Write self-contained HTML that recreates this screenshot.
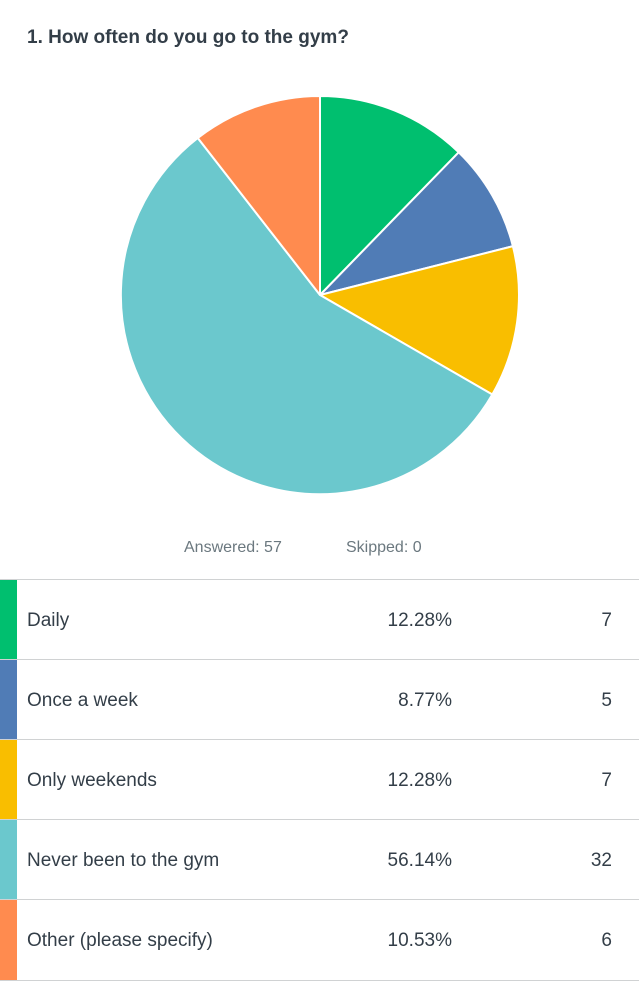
<!DOCTYPE html>
<html><head><meta charset="utf-8"><style>
body{margin:0;width:639px;height:1000px;background:#fff;font-family:"Liberation Sans",sans-serif;color:#333e48;position:relative;overflow:hidden}
.t{position:absolute;left:27px;top:27px;font-size:19px;font-weight:bold;color:#333e48}
.s{position:absolute;top:539px;font-size:16px;color:#6b787f}
.row{position:absolute;left:0;width:639px;height:80px;border-top:1px solid #d0d2d3}
.bar{position:absolute;left:0;top:0;width:17px;height:80px}
.row span{position:absolute;top:30px;font-size:19px}
.l{left:27px}.p{right:187px}.n{right:27px}
</style></head><body>
<div class="t">1. How often do you go to the gym?</div>
<svg style="position:absolute;left:0;top:0" width="639" height="520">
<g stroke="#fff" stroke-width="2" stroke-linejoin="round">
<path d="M320,295 L320,96 A199,199 0 0 1 458.7,152.3 Z" fill="#00bf6f"/>
<path d="M320,295 L458.7,152.3 A199,199 0 0 1 512.9,246.2 Z" fill="#507cb6"/>
<path d="M320,295 L512.9,246.2 A199,199 0 0 1 492.3,394.5 Z" fill="#f9be00"/>
<path d="M320,295 L492.3,394.5 A199,199 0 1 1 197.8,138 Z" fill="#6bc8cd"/>
<path d="M320,295 L197.8,138 A199,199 0 0 1 320,96 Z" fill="#ff8b4f"/>
</g></svg>
<div class="s" style="left:184px">Answered: 57</div>
<div class="s" style="left:346px">Skipped: 0</div>
<div class="row" style="top:579px"><div class="bar" style="background:#00bf6f"></div><span class="l">Daily</span><span class="p">12.28%</span><span class="n">7</span></div>
<div class="row" style="top:659px"><div class="bar" style="background:#507cb6"></div><span class="l">Once a week</span><span class="p">8.77%</span><span class="n">5</span></div>
<div class="row" style="top:739px"><div class="bar" style="background:#f9be00"></div><span class="l">Only weekends</span><span class="p">12.28%</span><span class="n">7</span></div>
<div class="row" style="top:819px"><div class="bar" style="background:#6bc8cd"></div><span class="l">Never been to the gym</span><span class="p">56.14%</span><span class="n">32</span></div>
<div class="row" style="top:899px;border-bottom:1px solid #d0d2d3"><div class="bar" style="background:#ff8b4f"></div><span class="l">Other (please specify)</span><span class="p">10.53%</span><span class="n">6</span></div>
</body></html>
